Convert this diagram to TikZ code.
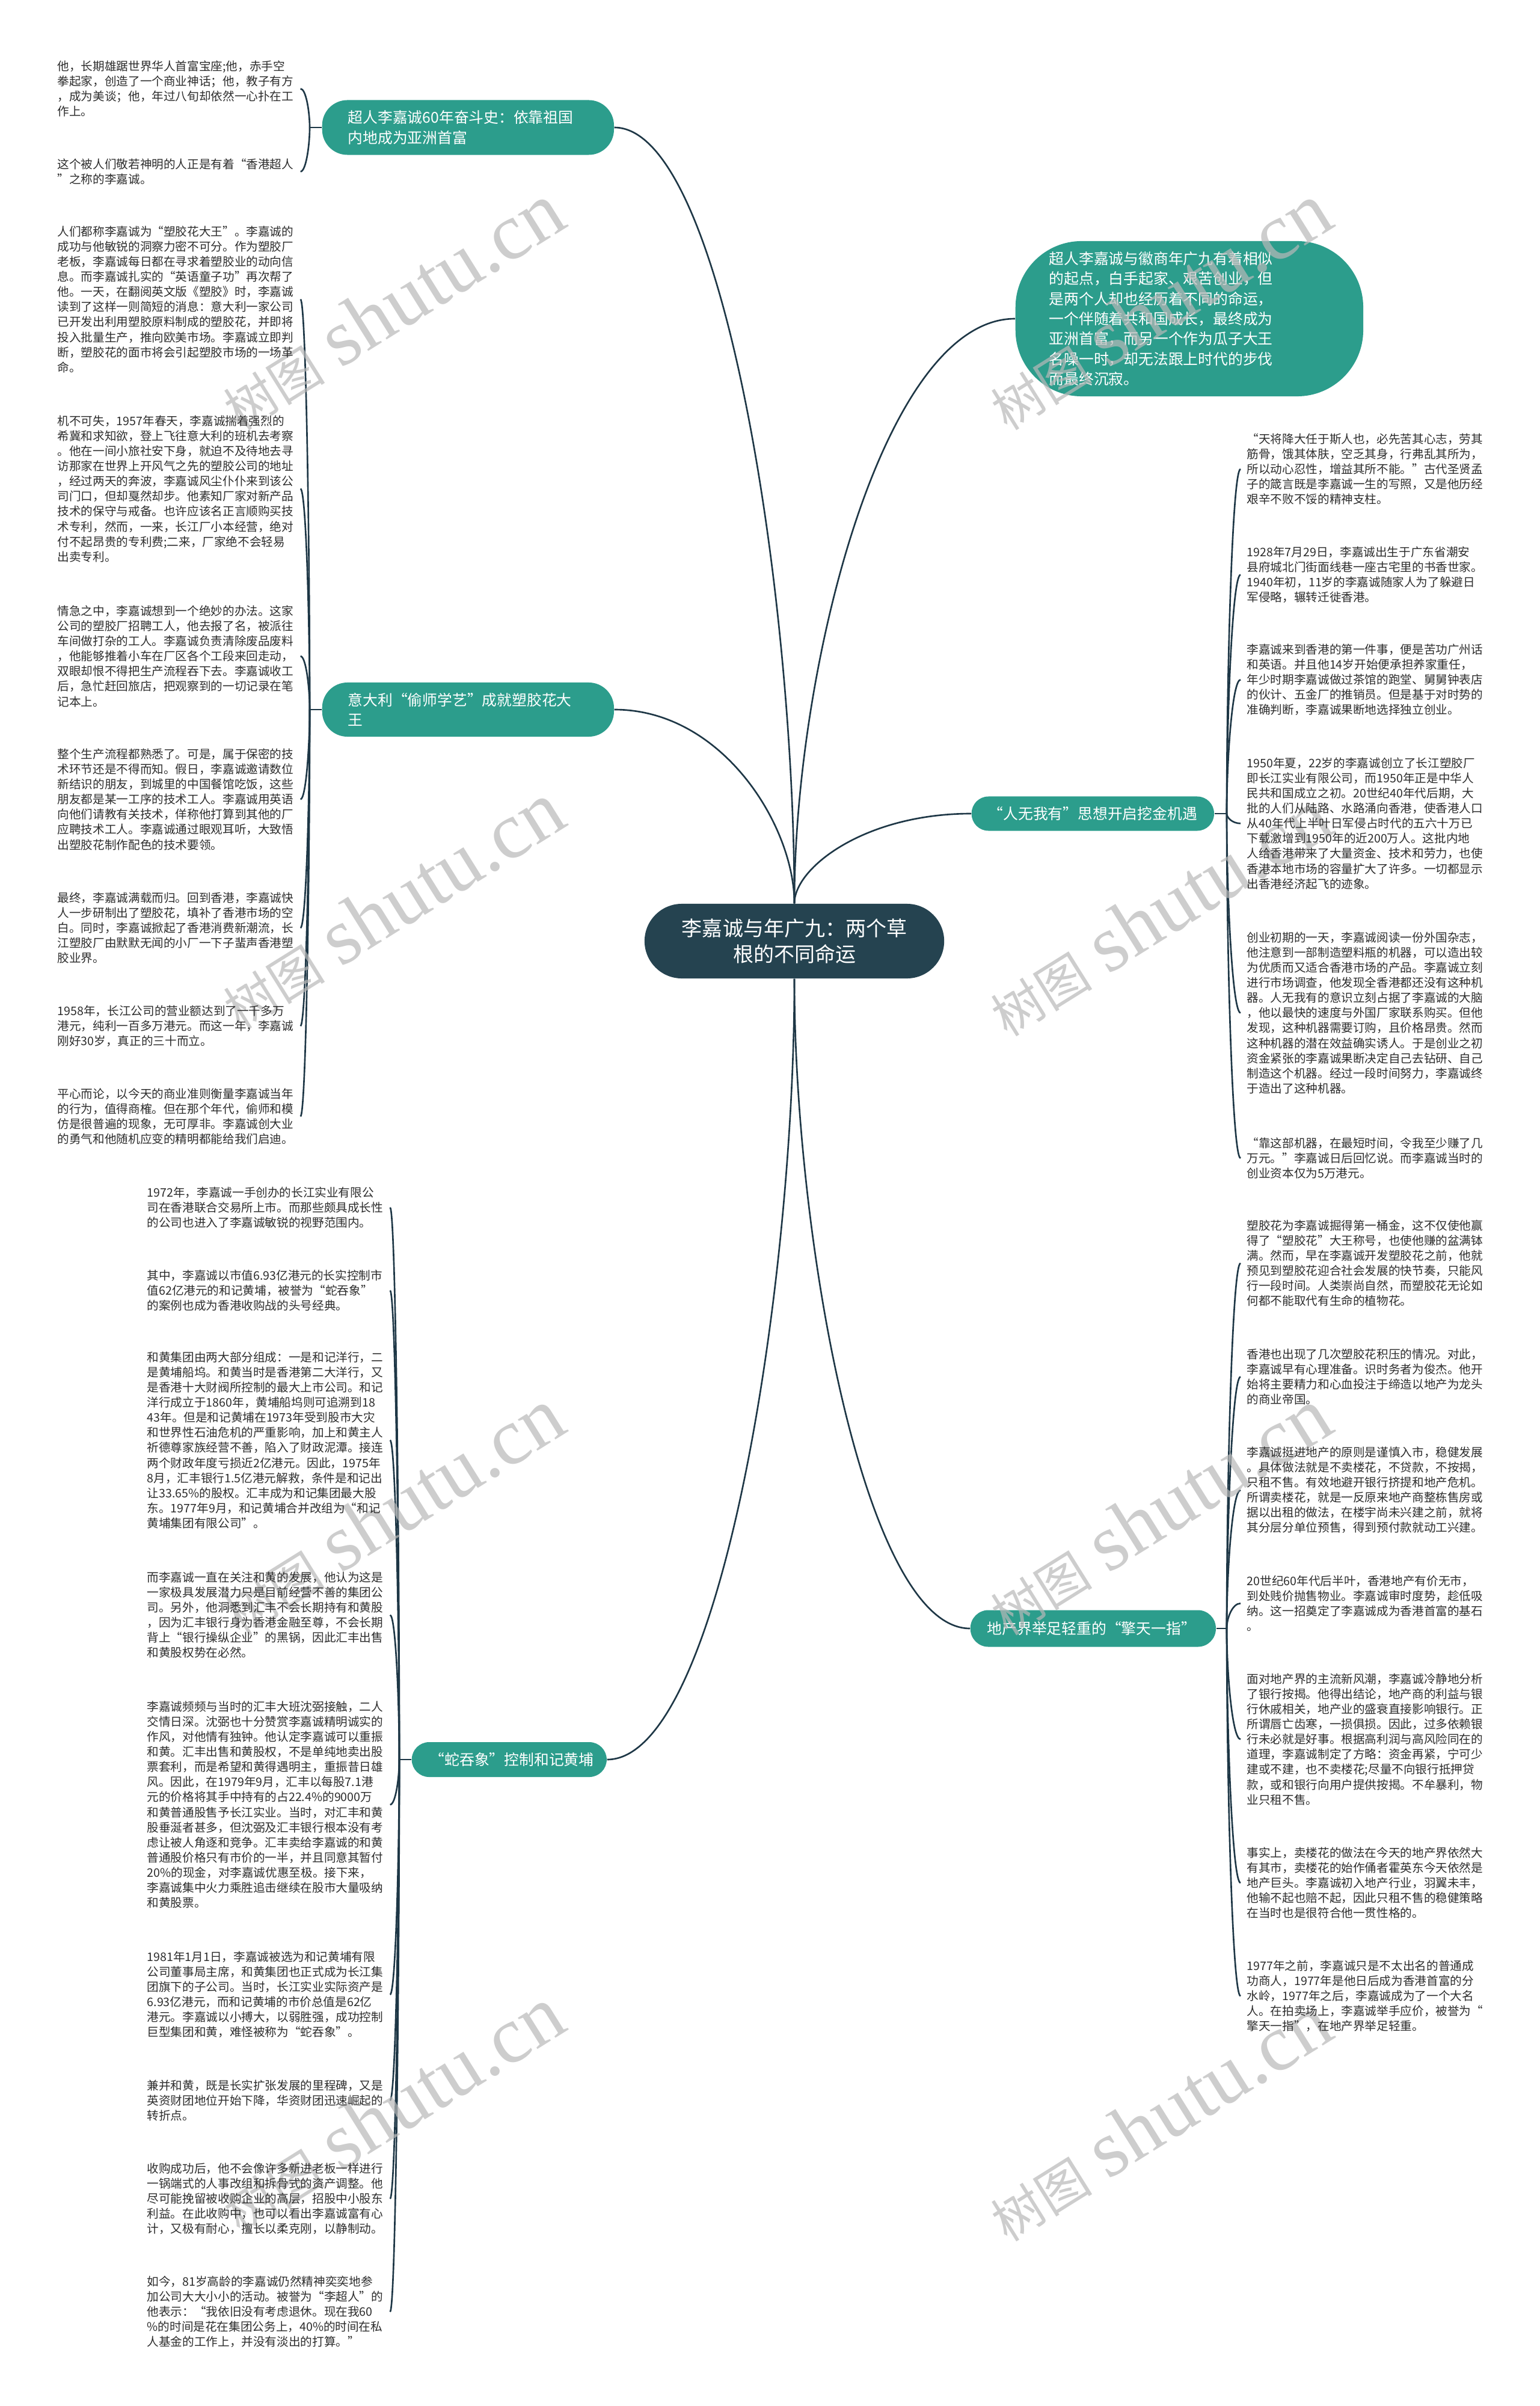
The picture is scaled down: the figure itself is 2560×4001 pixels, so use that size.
\documentclass[tikz,border=0pt]{standalone}
\usepackage{fontspec}
\setmainfont{Noto Sans CJK SC}
\newfontfamily\wmfont{Liberation Serif}
\usetikzlibrary{calc}

\definecolor{branchteal}{RGB}{44,157,140}
\definecolor{rootnavy}{RGB}{37,67,80}
\definecolor{edgenavy}{RGB}{30,55,70}
\definecolor{leafgray}{RGB}{45,45,45}
\definecolor{markgray}{RGB}{185,185,185}

\pgfdeclarelayer{marks}
\pgfdeclarelayer{texts}
\pgfsetlayers{main,marks,texts}

\begin{document}
\begin{tikzpicture}[
  x={(0.01cm,0)}, y={(0,-0.01cm)},
  root/.style={fill=rootnavy, text=white, align=center, minimum width=4.98cm, minimum height=1.24cm, rounded corners=0.62cm, font=\fontsize{9.67pt}{12.2pt}\selectfont},
  branch/.style={fill=branchteal, text=white, align=left, anchor=west, inner ysep=0pt, font=\fontsize{7.05pt}{9.5pt}\selectfont},
  leaf/.style={anchor=north west, inner xsep=0.1cm, inner ysep=0pt, text width=3.93cm, align=left, text=leafgray, font=\fontsize{5.58pt}{7.14pt}\selectfont},
  link/.style={draw=edgenavy, line width=0.75pt},
  elbow/.style={to path={.. controls ($(\tikztostart)!0.4!(\tikztostart|-\tikztotarget)$) and ($(\tikztotarget)!0.6!(\tikztotarget-|\tikztostart)$) .. (\tikztotarget)}},
  watermark/.style={rotate=32, text=markgray, opacity=0.7, inner sep=0pt}
]
  \useasboundingbox (0,0) rectangle (2560,4001);
  \fill[white] (0,0) rectangle (2560,4001);

  % root and branches
  \node[root] (root) at (1321,1565) {李嘉诚与年广九：两个草\\根的不同命运};
  \node[branch, minimum width=4.85cm, minimum height=0.91cm, text width=3.99cm, inner xsep=0.43cm, rounded corners=0.42cm] (b1) at (535,212) {超人李嘉诚60年奋斗史：依靠祖国\\内地成为亚洲首富};
  \node[branch, minimum width=4.85cm, minimum height=0.90cm, text width=3.99cm, inner xsep=0.43cm, rounded corners=0.42cm] (b2) at (535,1180) {意大利“偷师学艺”成就塑胶花大\\王};
  \node[branch, minimum width=3.24cm, minimum height=0.58cm, text width=2.64cm, inner xsep=0.30cm, rounded corners=0.29cm] (b3) at (684,2926) {“蛇吞象”控制和记黄埔};
  \node[branch, minimum width=5.78cm, minimum height=2.58cm, text width=4.66cm, inner xsep=0.56cm, rounded corners=1.1cm] (b4) at (1688,530) {超人李嘉诚与徽商年广九有着相似\\的起点，白手起家、艰苦创业，但\\是两个人却也经历着不同的命运，\\一个伴随着共和国成长，最终成为\\亚洲首富，而另一个作为瓜子大王\\名噪一时，却无法跟上时代的步伐\\而最终沉寂。};
  \node[branch, minimum width=4.03cm, minimum height=0.57cm, text width=3.47cm, inner xsep=0.28cm, rounded corners=0.28cm] (b5) at (1615,1353) {“人无我有”思想开启挖金机遇};
  \node[branch, minimum width=4.08cm, minimum height=0.61cm, text width=3.52cm, inner xsep=0.28cm, rounded corners=0.30cm] (b6) at (1613,2708) {地产界举足轻重的“擎天一指”};

  \begin{pgfonlayer}{texts}
  % left, upper
  \node[leaf] (a1) at (85,100) {他，长期雄踞世界华人首富宝座;他，赤手空\\拳起家，创造了一个商业神话；他，教子有方\\，成为美谈；他，年过八旬却依然一心扑在工\\作上。};
  \node[leaf] (a2) at (85,263) {这个被人们敬若神明的人正是有着“香港超人\\”之称的李嘉诚。};
  \node[leaf] (c1) at (85,375) {人们都称李嘉诚为“塑胶花大王”。李嘉诚的\\成功与他敏锐的洞察力密不可分。作为塑胶厂\\老板，李嘉诚每日都在寻求着塑胶业的动向信\\息。而李嘉诚扎实的“英语童子功”再次帮了\\他。一天，在翻阅英文版《塑胶》时，李嘉诚\\读到了这样一则简短的消息：意大利一家公司\\已开发出利用塑胶原料制成的塑胶花，并即将\\投入批量生产，推向欧美市场。李嘉诚立即判\\断，塑胶花的面市将会引起塑胶市场的一场革\\命。};
  \node[leaf] (c2) at (85,690) {机不可失，1957年春天，李嘉诚揣着强烈的\\希冀和求知欲，登上飞往意大利的班机去考察\\。他在一间小旅社安下身，就迫不及待地去寻\\访那家在世界上开风气之先的塑胶公司的地址\\，经过两天的奔波，李嘉诚风尘仆仆来到该公\\司门口，但却戛然却步。他素知厂家对新产品\\技术的保守与戒备。也许应该名正言顺购买技\\术专利，然而，一来，长江厂小本经营，绝对\\付不起昂贵的专利费;二来，厂家绝不会轻易\\出卖专利。};
  \node[leaf] (c3) at (85,1006) {情急之中，李嘉诚想到一个绝妙的办法。这家\\公司的塑胶厂招聘工人，他去报了名，被派往\\车间做打杂的工人。李嘉诚负责清除废品废料\\，他能够推着小车在厂区各个工段来回走动，\\双眼却恨不得把生产流程吞下去。李嘉诚收工\\后，急忙赶回旅店，把观察到的一切记录在笔\\记本上。};
  \node[leaf] (c4) at (85,1244) {整个生产流程都熟悉了。可是，属于保密的技\\术环节还是不得而知。假日，李嘉诚邀请数位\\新结识的朋友，到城里的中国餐馆吃饭，这些\\朋友都是某一工序的技术工人。李嘉诚用英语\\向他们请教有关技术，佯称他打算到其他的厂\\应聘技术工人。李嘉诚通过眼观耳听，大致悟\\出塑胶花制作配色的技术要领。};
  \node[leaf] (c5) at (85,1483) {最终，李嘉诚满载而归。回到香港，李嘉诚快\\人一步研制出了塑胶花，填补了香港市场的空\\白。同时，李嘉诚掀起了香港消费新潮流，长\\江塑胶厂由默默无闻的小厂一下子蜚声香港塑\\胶业界。};
  \node[leaf] (c6) at (85,1671) {1958年，长江公司的营业额达到了一千多万\\港元，纯利一百多万港元。而这一年，李嘉诚\\刚好30岁，真正的三十而立。};
  \node[leaf] (c7) at (85,1809) {平心而论，以今天的商业准则衡量李嘉诚当年\\的行为，值得商榷。但在那个年代，偷师和模\\仿是很普遍的现象，无可厚非。李嘉诚创大业\\的勇气和他随机应变的精明都能给我们启迪。};

  % left, lower
  \node[leaf] (d1) at (234,1973) {1972年，李嘉诚一手创办的长江实业有限公\\司在香港联合交易所上市。而那些颇具成长性\\的公司也进入了李嘉诚敏锐的视野范围内。};
  \node[leaf] (d2) at (234,2111) {其中，李嘉诚以市值6.93亿港元的长实控制市\\值62亿港元的和记黄埔，被誉为“蛇吞象”\\的案例也成为香港收购战的头号经典。};
  \node[leaf] (d3) at (234,2247) {和黄集团由两大部分组成：一是和记洋行，二\\是黄埔船坞。和黄当时是香港第二大洋行，又\\是香港十大财阀所控制的最大上市公司。和记\\洋行成立于1860年，黄埔船坞则可追溯到18\\43年。但是和记黄埔在1973年受到股市大灾\\和世界性石油危机的严重影响，加上和黄主人\\祈德尊家族经营不善，陷入了财政泥潭。接连\\两个财政年度亏损近2亿港元。因此，1975年\\8月，汇丰银行1.5亿港元解救，条件是和记出\\让33.65\%的股权。汇丰成为和记集团最大股\\东。1977年9月，和记黄埔合并改组为“和记\\黄埔集团有限公司”。};
  \node[leaf] (d4) at (234,2613) {而李嘉诚一直在关注和黄的发展，他认为这是\\一家极具发展潜力只是目前经营不善的集团公\\司。另外，他洞悉到汇丰不会长期持有和黄股\\，因为汇丰银行身为香港金融至尊，不会长期\\背上“银行操纵企业”的黑锅，因此汇丰出售\\和黄股权势在必然。};
  \node[leaf] (d5) at (234,2828) {李嘉诚频频与当时的汇丰大班沈弼接触，二人\\交情日深。沈弼也十分赞赏李嘉诚精明诚实的\\作风，对他情有独钟。他认定李嘉诚可以重振\\和黄。汇丰出售和黄股权，不是单纯地卖出股\\票套利，而是希望和黄得遇明主，重振昔日雄\\风。因此，在1979年9月，汇丰以每股7.1港\\元的价格将其手中持有的占22.4\%的9000万\\和黄普通股售予长江实业。当时，对汇丰和黄\\股垂涎者甚多，但沈弼及汇丰银行根本没有考\\虑让被人角逐和竞争。汇丰卖给李嘉诚的和黄\\普通股价格只有市价的一半，并且同意其暂付\\20\%的现金，对李嘉诚优惠至极。接下来，\\李嘉诚集中火力乘胜追击继续在股市大量吸纳\\和黄股票。};
  \node[leaf] (d6) at (234,3244) {1981年1月1日，李嘉诚被选为和记黄埔有限\\公司董事局主席，和黄集团也正式成为长江集\\团旗下的子公司。当时，长江实业实际资产是\\6.93亿港元，而和记黄埔的市价总值是62亿\\港元。李嘉诚以小搏大，以弱胜强，成功控制\\巨型集团和黄，难怪被称为“蛇吞象”。};
  \node[leaf] (d7) at (234,3458) {兼并和黄，既是长实扩张发展的里程碑，又是\\英资财团地位开始下降，华资财团迅速崛起的\\转折点。};
  \node[leaf] (d8) at (234,3596) {收购成功后，他不会像许多新进老板一样进行\\一锅端式的人事改组和拆骨式的资产调整。他\\尽可能挽留被收购企业的高层，招股中小股东\\利益。在此收购中，也可以看出李嘉诚富有心\\计，又极有耐心，擅长以柔克刚，以静制动。};
  \node[leaf] (d9) at (234,3784) {如今，81岁高龄的李嘉诚仍然精神奕奕地参\\加公司大大小小的活动。被誉为“李超人”的\\他表示：“我依旧没有考虑退休。现在我60\\\%的时间是花在集团公务上，40\%的时间在私\\人基金的工作上，并没有淡出的打算。”};

  % right, upper
  \node[leaf] (e1) at (2063,720) {“天将降大任于斯人也，必先苦其心志，劳其\\筋骨，饿其体肤，空乏其身，行弗乱其所为，\\所以动心忍性，增益其所不能。”古代圣贤孟\\子的箴言既是李嘉诚一生的写照，又是他历经\\艰辛不败不馁的精神支柱。};
  \node[leaf] (e2) at (2063,908) {1928年7月29日，李嘉诚出生于广东省潮安\\县府城北门街面线巷一座古宅里的书香世家。\\1940年初，11岁的李嘉诚随家人为了躲避日\\军侵略，辗转迁徙香港。};
  \node[leaf] (e3) at (2063,1070) {李嘉诚来到香港的第一件事，便是苦功广州话\\和英语。并且他14岁开始便承担养家重任，\\年少时期李嘉诚做过茶馆的跑堂、舅舅钟表店\\的伙计、五金厂的推销员。但是基于对时势的\\准确判断，李嘉诚果断地选择独立创业。};
  \node[leaf] (e4) at (2063,1259) {1950年夏，22岁的李嘉诚创立了长江塑胶厂\\即长江实业有限公司，而1950年正是中华人\\民共和国成立之初。20世纪40年代后期，大\\批的人们从陆路、水路涌向香港，使香港人口\\从40年代上半叶日军侵占时代的五六十万已\\下载激增到1950年的近200万人。这批内地\\人给香港带来了大量资金、技术和劳力，也使\\香港本地市场的容量扩大了许多。一切都显示\\出香港经济起飞的迹象。};
  \node[leaf] (e5) at (2063,1549) {创业初期的一天，李嘉诚阅读一份外国杂志，\\他注意到一部制造塑料瓶的机器，可以造出较\\为优质而又适合香港市场的产品。李嘉诚立刻\\进行市场调查，他发现全香港都还没有这种机\\器。人无我有的意识立刻占据了李嘉诚的大脑\\，他以最快的速度与外国厂家联系购买。但他\\发现，这种机器需要订购，且价格昂贵。然而\\这种机器的潜在效益确实诱人。于是创业之初\\资金紧张的李嘉诚果断决定自己去钻研、自己\\制造这个机器。经过一段时间努力，李嘉诚终\\于造出了这种机器。};
  \node[leaf] (e6) at (2063,1891) {“靠这部机器，在最短时间，令我至少赚了几\\万元。”李嘉诚日后回忆说。而李嘉诚当时的\\创业资本仅为5万港元。};

  % right, lower
  \node[leaf] (f1) at (2063,2028) {塑胶花为李嘉诚掘得第一桶金，这不仅使他赢\\得了“塑胶花”大王称号，也使他赚的盆满钵\\满。然而，早在李嘉诚开发塑胶花之前，他就\\预见到塑胶花迎合社会发展的快节奏，只能风\\行一段时间。人类崇尚自然，而塑胶花无论如\\何都不能取代有生命的植物花。};
  \node[leaf] (f2) at (2063,2242) {香港也出现了几次塑胶花积压的情况。对此，\\李嘉诚早有心理准备。识时务者为俊杰。他开\\始将主要精力和心血投注于缔造以地产为龙头\\的商业帝国。};
  \node[leaf] (f3) at (2063,2405) {李嘉诚挺进地产的原则是谨慎入市，稳健发展\\。具体做法就是不卖楼花，不贷款，不按揭，\\只租不售。有效地避开银行挤提和地产危机。\\所谓卖楼花，就是一反原来地产商整栋售房或\\据以出租的做法，在楼宇尚未兴建之前，就将\\其分层分单位预售，得到预付款就动工兴建。};
  \node[leaf] (f4) at (2063,2619) {20世纪60年代后半叶，香港地产有价无市，\\到处贱价抛售物业。李嘉诚审时度势，趁低吸\\纳。这一招奠定了李嘉诚成为香港首富的基石\\。};
  \node[leaf] (f5) at (2063,2782) {面对地产界的主流新风潮，李嘉诚冷静地分析\\了银行按揭。他得出结论，地产商的利益与银\\行休戚相关，地产业的盛衰直接影响银行。正\\所谓唇亡齿寒，一损俱损。因此，过多依赖银\\行未必就是好事。根据高利润与高风险同在的\\道理，李嘉诚制定了方略：资金再紧，宁可少\\建或不建，也不卖楼花;尽量不向银行抵押贷\\款，或和银行向用户提供按揭。不牟暴利，物\\业只租不售。};
  \node[leaf] (f6) at (2063,3071) {事实上，卖楼花的做法在今天的地产界依然大\\有其市，卖楼花的始作俑者霍英东今天依然是\\地产巨头。李嘉诚初入地产行业，羽翼未丰，\\他输不起也赔不起，因此只租不售的稳健策略\\在当时也是很符合他一贯性格的。};
  \node[leaf] (f7) at (2063,3259) {1977年之前，李嘉诚只是不太出名的普通成\\功商人，1977年是他日后成为香港首富的分\\水岭，1977年之后，李嘉诚成为了一个大名\\人。在拍卖场上，李嘉诚举手应价，被誉为“\\擎天一指”，在地产界举足轻重。};
  \end{pgfonlayer}

  % root to branches
  \draw[link] (root.north) to[elbow] (b1.east);
  \draw[link] (root.north) to[elbow] (b2.east);
  \draw[link] (root.north) to[elbow] (b4.west);
  \draw[link] (root.north) to[elbow] (b5.west);
  \draw[link] (root.south) to[elbow] (b3.east);
  \draw[link] (root.south) to[elbow] (b6.west);

  % branches to leaves
  \coordinate (j1) at (515,212);
  \coordinate (j2) at (515,1180);
  \coordinate (j3) at (664,2926);
  \coordinate (j5) at (2040,1353);
  \coordinate (j6) at (2040,2708);
  \draw[link] (b1.west) -- (j1);
  \draw[link] (b2.west) -- (j2);
  \draw[link] (b3.west) -- (j3);
  \draw[link] (b5.east) -- (j5);
  \draw[link] (b6.east) -- (j6);
  \foreach \leaf in {a1,a2} \draw[link] (j1) to[elbow] (\leaf.east);
  \foreach \leaf in {c1,c2,c3,c4,c5,c6,c7} \draw[link] (j2) to[elbow] (\leaf.east);
  \foreach \leaf in {d1,d2,d3,d4,d5,d6,d7,d8,d9} \draw[link] (j3) to[elbow] (\leaf.east);
  \foreach \leaf in {e1,e2,e3,e4,e5,e6} \draw[link] (j5) to[elbow] (\leaf.west);
  \foreach \leaf in {f1,f2,f3,f4,f5,f6,f7} \draw[link] (j6) to[elbow] (\leaf.west);

  % watermarks
  \begin{pgfonlayer}{marks}
  \foreach \wx/\wy [count=\i] in {651/510, 651/1506, 651/2514, 651/3509, 1927/510, 1927/1518, 1927/2514, 1927/3522}
    \node[watermark] (wm\i) at (\wx,\wy) {{\fontsize{24pt}{24pt}\selectfont 树图}\hspace{8pt}{\wmfont\fontsize{38pt}{38pt}\selectfont shutu.cn}};
  \end{pgfonlayer}
\end{tikzpicture}
\end{document}
